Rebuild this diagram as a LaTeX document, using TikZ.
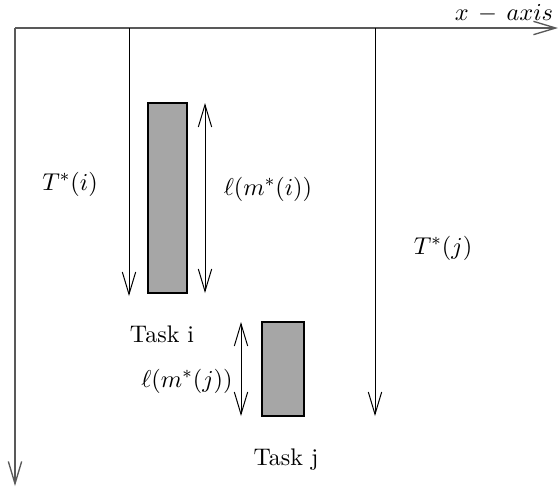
\documentclass[tikz,border=0pt]{standalone}
\usepackage{amsmath}
\usetikzlibrary{arrows.meta,positioning}

\tikzset{
  barb/.style={-{Straight Barb[length=10pt,width=6pt]}},
  dblbarb/.style={{Straight Barb[length=10pt,width=6pt]}-{Straight Barb[length=10pt,width=6pt]}},
  axis/.style={black!65,line width=0.6pt},
  taskbar/.style={fill=black!35,draw=black,line width=0.6pt},
}

\begin{document}
\begin{tikzpicture}[x=0.45pt,y=-0.45pt,line width=0.45pt,font=\fontsize{10.8}{13}\selectfont]
	\useasboundingbox (0,0) rectangle (559,489);
	
	% Axes
	\coordinate (O) at (15,28);
	\coordinate (xend) at (558,28);
	\coordinate (yend) at (15,486);
	\draw[axis,barb] (O) -- (xend);
	\draw[axis,barb] (O) -- (yend);
	\node[inner sep=0.5pt] (xlab) at (504,13.5) {$x\,-\,axis$};
	
	% Task i
	\coordinate (ti0) at (129,28);
	\coordinate (ti1) at (129,296);
	\draw[barb] (ti0) -- (ti1);
	\node (Ti) at (70,184) {$T^*(i)$};
	\filldraw[taskbar] (148,103) rectangle (187,293);
	\coordinate (li0) at (205,103);
	\coordinate (li1) at (205,293);
	\draw[dblbarb] (li0) -- (li1);
	\node (Li) at (268,189) {$\ell(m^*(i))$};
	\node (taski) at (162,334) {Task i};
	
	% Task j
	\coordinate (tj0) at (375,28);
	\coordinate (tj1) at (375,416);
	\draw[barb] (tj0) -- (tj1);
	\node (Tj) at (443,248) {$T^*(j)$};
	\filldraw[taskbar] (262,322) rectangle (304,416);
	\coordinate (lj0) at (241,322);
	\coordinate (lj1) at (241,416);
	\draw[dblbarb] (lj0) -- (lj1);
	\node (Lj) at (187,381) {$\ell(m^*(j))$};
	\node (taskj) at (286,460) {Task j};
	
\end{tikzpicture}
\end{document}
